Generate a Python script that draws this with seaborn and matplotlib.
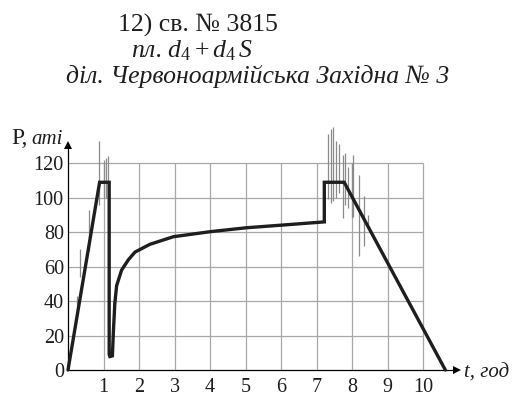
import matplotlib
matplotlib.use("Agg")
import matplotlib.pyplot as plt
import seaborn as sns
import pandas as pd

# Pressure curve P(t) for well No. 3815
time_h = [0, 0.89, 1.16, 1.16, 1.18, 1.25, 1.28, 1.32, 1.37, 1.51, 1.70, 1.89,
          2.31, 2.97, 4.0, 5.03, 6.07, 7.22, 7.22, 7.78, 10.63]
pressure = [0, 109, 109, 9, 7.8, 8.2, 23, 39, 49, 58, 64, 68.5,
            73, 77.4, 80.3, 82.6, 84.2, 86, 109, 109, 0]

# Pressure pulsations recorded as thin vertical strokes
spike_t = [0.25, 0.34, 0.60, 0.87, 1.00, 1.07, 1.14,
           7.33, 7.40, 7.47, 7.55, 7.64, 7.74, 7.80, 7.90, 7.99, 8.03, 8.21, 8.34, 8.46]
spike_lo = [38, 54, 69, 96, 100, 100, 100,
            99, 97, 98, 100, 103, 88, 96, 94, 89, 89, 66, 72, 82]
spike_hi = [43, 70, 93, 133, 122, 123, 124,
            137, 140, 141, 133, 131, 125, 126, 118, 120, 125, 113, 101, 90]

x_ticks = [1, 2, 3, 4, 5, 6, 7, 8, 9, 10]
y_ticks = [0, 20, 40, 60, 80, 100, 120]

sns.set_style("white")
plt.rcParams["font.family"] = ["Liberation Serif", "DejaVu Serif"]
plt.rcParams["mathtext.fontset"] = "custom"
plt.rcParams["mathtext.rm"] = "Liberation Serif"
plt.rcParams["mathtext.it"] = "Liberation Serif:italic"

ink = "#1e1e1e"
fig = plt.figure(figsize=(5.14, 3.96), dpi=100)
ax = fig.add_axes([0.13230, 0.06566, 0.77354, 0.58712])
ax.set_xlim(0, 11.2)
ax.set_ylim(0, 135)
for s in ax.spines.values():
    s.set_visible(False)

grid_c = "#a8a8a8"
ax.vlines(x_ticks, 0, 120, color=grid_c, lw=0.9, zorder=1)
ax.hlines(y_ticks[1:], 0, 10, color=grid_c, lw=0.9, zorder=1)

ax.vlines(spike_t, spike_lo, spike_hi, color="#8a8a8a", lw=0.9, zorder=2,
          clip_on=False)

df = pd.DataFrame({"t": time_h, "P": pressure})
sns.lineplot(data=df, x="t", y="P", sort=False, estimator=None, ax=ax,
             color=ink, lw=2.4, zorder=4, clip_on=False)
ax.lines[-1].set_solid_joinstyle("miter")

# coordinate axes with arrowheads
ax.plot([0, 10.95], [0, 0], color="black", lw=0.9, zorder=3, clip_on=False)
ax.plot([0, 0], [0, 130.5], color="black", lw=0.9, zorder=3, clip_on=False)
ax.plot([10.95], [0], marker=">", ms=5.5, color="black", mew=0, zorder=5,
        clip_on=False)
ax.plot([0], [130.5], marker="^", ms=5.5, color="black", mew=0, zorder=5,
        clip_on=False)

ax.set_xticks(x_ticks)
ax.set_yticks(y_ticks)
ax.tick_params(axis="both", length=0, labelsize=14.5, colors=ink)
ax.tick_params(axis="x", pad=6)
ax.tick_params(axis="y", pad=3)
ax.set_xlabel("")
ax.set_ylabel("")

unit = ax.text(-0.14, 131.2, "аті", ha="right", va="baseline", fontsize=15,
               style="italic", color=ink)
fig.canvas.draw()
# put the upright "P," just left of the italic unit
bb = unit.get_window_extent()
x_p = ax.transData.inverted().transform((bb.x0 - 4, 0))[0]
ax.text(x_p, 131.2, "P,", ha="right", va="baseline", fontsize=17, color=ink)

ax.text(11.15, -1.5, "t, год", ha="left", va="center", fontsize=15,
        style="italic", color=ink)

fig.text(197.5 / 514, 1 - 32 / 396, "12) св. № 3815", ha="center",
         va="baseline", fontsize=18.5, color=ink)
fig.text(192 / 514, 1 - 57 / 396, r"пл. $d_4 + d_4\, S$", ha="center",
         va="baseline", fontsize=18.5, style="italic", color=ink)
fig.text(258 / 514, 1 - 83 / 396, "діл. Червоноармійська Західна № 3",
         ha="center", va="baseline", fontsize=18.5, style="italic", color=ink)

fig.savefig("out.png", dpi=100)
